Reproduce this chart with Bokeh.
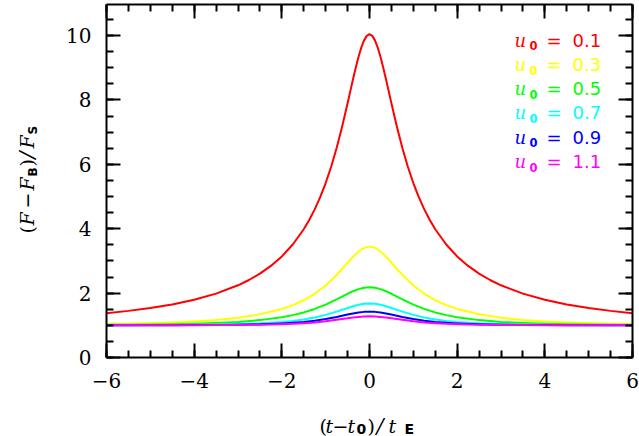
import math
from bokeh.plotting import figure
from bokeh.models import Range1d, LinearAxis, SingleIntervalTicker, Label, CustomJSTickFormatter
from bokeh.embed import file_html
from bokeh.resources import INLINE

# ---- data ----
t_fine = [-6, -5.5, -5, -4.5, -4, -3.5, -3, -2.75, -2.5, -2.25, -2, -1.75, -1.5, -1.375, -1.25, -1.125, -1, -0.875,
          -0.75, -0.625, -0.5, -0.4375, -0.375, -0.3125, -0.25, -0.1875, -0.125, -0.0625,
          0, 0.0625, 0.125, 0.1875, 0.25, 0.3125, 0.375, 0.4375, 0.5, 0.625, 0.75, 0.875, 1, 1.125, 1.25, 1.375,
          1.5, 1.75, 2, 2.25, 2.5, 2.75, 3, 3.5, 4, 4.5, 5, 5.5, 6]
flux_u01 = [1.377, 1.448, 1.537, 1.649, 1.793, 1.984, 2.242, 2.407, 2.604, 2.844, 3.140, 3.510, 3.983, 4.270, 4.600, 4.979, 5.418, 5.925,
            6.507, 7.168, 7.894, 8.272, 8.647, 9.008, 9.341, 9.627, 9.849, 9.989,
            10.04, 9.989, 9.849, 9.627, 9.341, 9.008, 8.647, 8.272, 7.894, 7.168, 6.507, 5.925, 5.418, 4.979, 4.600, 4.270,
            3.983, 3.510, 3.140, 2.844, 2.604, 2.407, 2.242, 1.984, 1.793, 1.649, 1.537, 1.448, 1.377]

t = [-6, -5.5, -5, -4.5, -4, -3.5, -3, -2.5, -2, -1.75, -1.5, -1.25, -1, -0.75, -0.5, -0.375, -0.25, -0.125,
     0, 0.125, 0.25, 0.375, 0.5, 0.75, 1, 1.25, 1.5, 1.75, 2, 2.5, 3, 3.5, 4, 4.5, 5, 5.5, 6]
flux_u03 = [1.039, 1.051, 1.067, 1.089, 1.121, 1.167, 1.236, 1.341, 1.507, 1.626, 1.779, 1.978, 2.237, 2.563, 2.943, 3.131, 3.293, 3.405,
            3.445, 3.405, 3.293, 3.131, 2.943, 2.563, 2.237, 1.978, 1.779, 1.626, 1.507, 1.341, 1.236, 1.167, 1.121, 1.089, 1.067, 1.051, 1.039]
flux_u05 = [1.014, 1.019, 1.026, 1.035, 1.050, 1.072, 1.106, 1.161, 1.250, 1.316, 1.400, 1.508, 1.643, 1.805, 1.979, 2.059, 2.124, 2.168,
            2.183, 2.168, 2.124, 2.059, 1.979, 1.805, 1.643, 1.508, 1.400, 1.316, 1.250, 1.161, 1.106, 1.072, 1.050, 1.035, 1.026, 1.019, 1.014]
flux_u07 = [1.004, 1.005, 1.007, 1.011, 1.016, 1.024, 1.037, 1.061, 1.103, 1.136, 1.181, 1.243, 1.324, 1.425, 1.539, 1.593, 1.638, 1.668,
            1.679, 1.668, 1.638, 1.593, 1.539, 1.425, 1.324, 1.243, 1.181, 1.136, 1.103, 1.061, 1.037, 1.024, 1.016, 1.011, 1.007, 1.005, 1.004]
flux_u09 = [1.002, 1.002, 1.004, 1.005, 1.008, 1.012, 1.019, 1.032, 1.057, 1.077, 1.104, 1.143, 1.195, 1.260, 1.334, 1.369, 1.398, 1.417,
            1.424, 1.417, 1.398, 1.369, 1.334, 1.260, 1.195, 1.143, 1.104, 1.077, 1.057, 1.032, 1.019, 1.012, 1.008, 1.005, 1.004, 1.002, 1.002]
flux_u11 = [1.001, 1.001, 1.002, 1.003, 1.004, 1.007, 1.011, 1.019, 1.034, 1.047, 1.065, 1.090, 1.124, 1.169, 1.218, 1.242, 1.261, 1.274,
            1.279, 1.274, 1.261, 1.242, 1.218, 1.169, 1.124, 1.090, 1.065, 1.047, 1.034, 1.019, 1.011, 1.007, 1.004, 1.003, 1.002, 1.001, 1.001]

u0_labels = ["0.1", "0.3", "0.5", "0.7", "0.9", "1.1"]
series = [(t_fine, flux_u01), (t, flux_u03), (t, flux_u05), (t, flux_u07), (t, flux_u09), (t, flux_u11)]
colors = ["#ff0000", "#ffff00", "#00ff00", "#00ffff", "#0000ff", "#ff00ff"]

X_MIN, X_MAX = -6, 6
Y_MIN, Y_MAX = 0, 10.963

# ---- layout (page pixels) ----
W, H = 639, 436
FL, FR, FT, FB = 106, 632, 4, 357      # plot box edges
sx = (FR - FL) / (X_MAX - X_MIN)
sy = (FB - FT) / (Y_MAX - Y_MIN)
x_lo = X_MIN - FL / sx
x_hi = X_MAX + (W - FR) / sx
y_lo = Y_MIN - (H - FB) / sy
y_hi = Y_MAX + FT / sy

p = figure(width=W, height=H, output_backend="svg", toolbar_location=None,
           x_range=Range1d(x_lo, x_hi), y_range=Range1d(y_lo, y_hi),
           min_border=0, min_border_left=0, min_border_right=0, min_border_top=0, min_border_bottom=0,
           x_axis_location=None, y_axis_location=None)
p.background_fill_color = "white"
p.border_fill_color = "white"
p.outline_line_color = None
p.xgrid.visible = False
p.ygrid.visible = False

minus_fmt = CustomJSTickFormatter(code="""
    const v = Math.round(tick * 1000) / 1000;
    return v < 0 ? "\\u2212" + String(-v) : String(v);
""")

def make_axis(loc, fixed, bounds, show_labels, standoff=0):
    ax = LinearAxis(ticker=SingleIntervalTicker(interval=2, num_minor_ticks=4), formatter=minus_fmt,
                    fixed_location=fixed, bounds=bounds)
    ax.axis_line_width = 2
    ax.axis_line_color = "black"
    ax.major_tick_in = 14
    ax.major_tick_out = 0
    ax.minor_tick_in = 7
    ax.minor_tick_out = 0
    ax.major_tick_line_width = 2
    ax.minor_tick_line_width = 2
    ax.major_tick_line_color = "black"
    ax.minor_tick_line_color = "black"
    ax.major_label_text_font = "DejaVu Serif"
    ax.major_label_text_font_size = "20px"
    ax.major_label_standoff = standoff
    ax.major_label_text_color = "black" if show_labels else None
    p.add_layout(ax, loc)

make_axis("below", Y_MIN, (X_MIN, X_MAX), True, standoff=15)
make_axis("above", Y_MAX, (X_MIN, X_MAX), False)
make_axis("left", X_MIN, (Y_MIN, Y_MAX), True, standoff=15)
make_axis("right", X_MAX, (Y_MIN, Y_MAX), False)

for (xs, ys), c in zip(series, colors):
    p.line(xs, ys, line_color=c, line_width=2, line_join="round")

def lab(text, px, py, size, font="DejaVu Serif", style="normal", color="black", angle=0.0):
    p.add_layout(Label(x=px, y=H - py, x_units="screen", y_units="screen", text=text,
                       text_font=font, text_font_size=f"{size}px", text_font_style=style,
                       text_color=color, angle=angle, text_align="left", text_baseline="alphabetic"))

# legend (coloured text)
for i, (lbl, c) in enumerate(zip(u0_labels, colors)):
    base = 39.5 + 24.3 * i
    lab("u", 514, base, 18, style="italic", color=c)
    lab("0", 529, base + 5.7, 11.5, font="DejaVu Sans", style="bold", color=c)
    lab("=", 546, base, 18, font="DejaVu Sans", color=c)
    lab(lbl, 572, base, 18, font="DejaVu Sans", color=c)

# x-axis title: (t - t0)/tE
xb = 425
lab("(", 319, xb, 19)
lab("t", 325, xb, 19, style="italic")
lab("\u2212", 332, xb, 19, font="DejaVu Sans")
lab("t", 347, xb, 19, style="italic")
lab("0", 356, xb + 3.5, 14, font="DejaVu Sans", style="bold")
lab(")", 367, xb, 19)
lab("/", 376, xb, 21, style="italic")
lab("t", 388, xb, 19, style="italic")
lab("E", 404, xb + 3.5, 14, font="DejaVu Sans", style="bold")

# y-axis title: (F - F_B)/F_S, rotated
yb = 26
ang = math.pi / 2
lab("(", yb, 233, 19, angle=ang)
lab("F", yb, 225, 19, style="italic", angle=ang)
lab("\u2212", yb, 208, 19, font="DejaVu Sans", angle=ang)
lab("F", yb, 190, 19, style="italic", angle=ang)
lab("B", yb + 6, 176, 12, font="DejaVu Sans", style="bold", angle=ang)
lab(")", yb, 166, 19, angle=ang)
lab("/", yb, 158, 21, style="italic", angle=ang)
lab("F", yb, 148, 19, style="italic", angle=ang)
lab("S", yb + 6, 134, 12, font="DejaVu Sans", style="bold", angle=ang)

open("out.html", "w").write(file_html(p, INLINE))
